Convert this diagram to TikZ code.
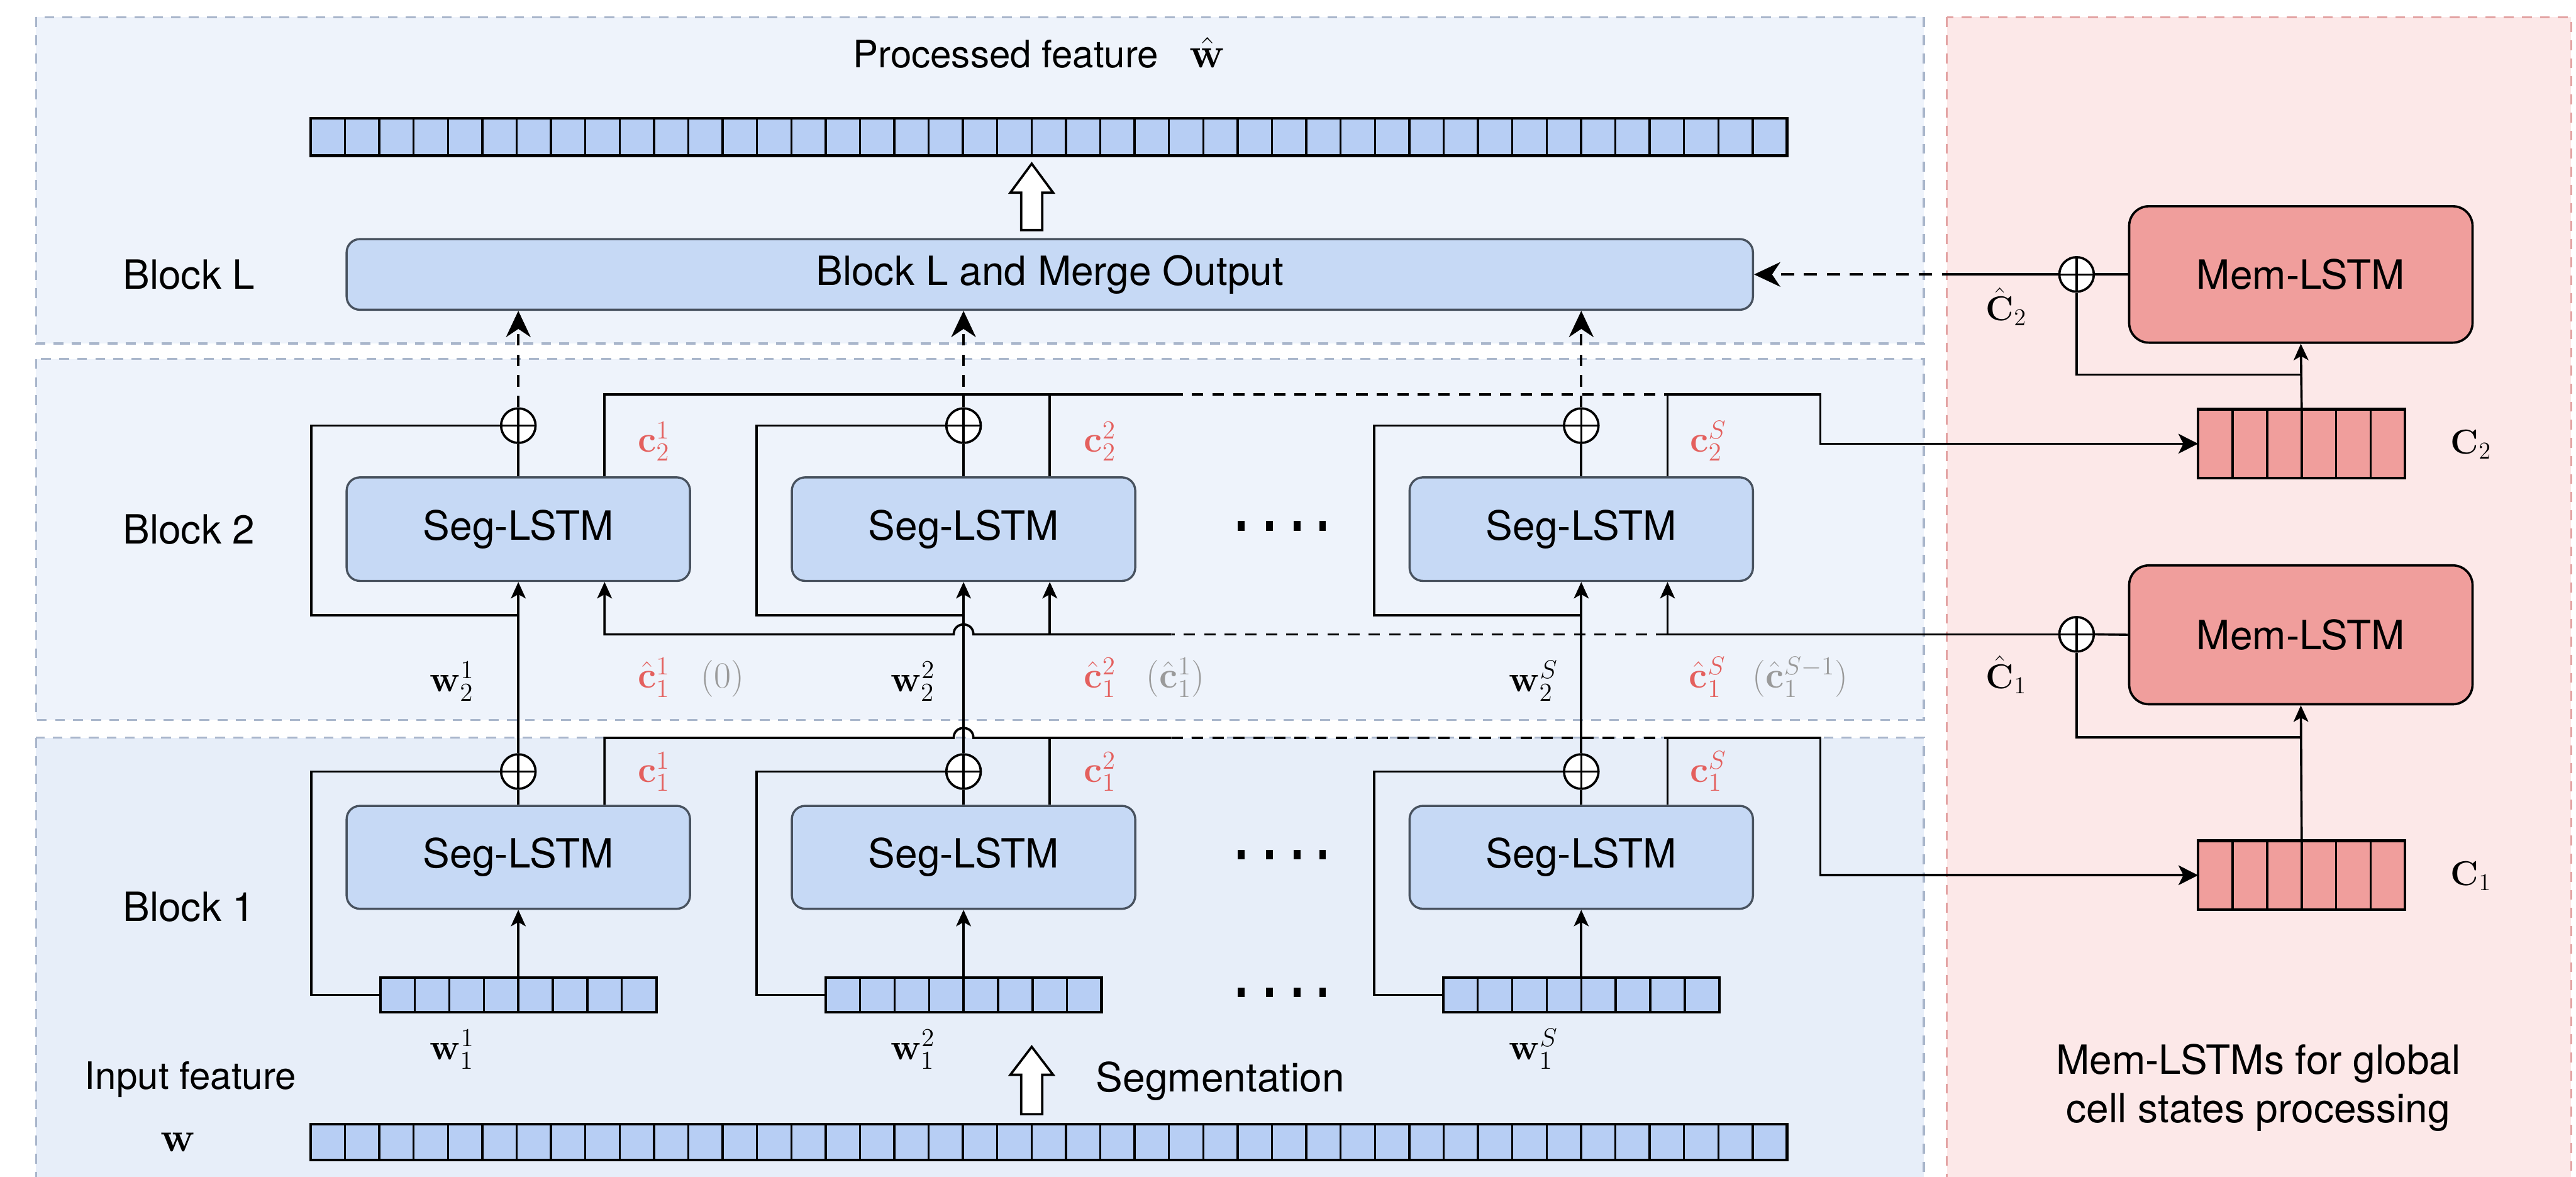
\RequirePackage{fix-cm}
\documentclass[tikz,border=0pt]{standalone}
\usepackage[no-math]{fontspec}
\newfontfamily\hv{TeX Gyre Heros}
\usetikzlibrary{arrows.meta}

\definecolor{panelA}{HTML}{EEF3FB}
\definecolor{panelB}{HTML}{E7EEF9}
\definecolor{panelEdge}{HTML}{A9B6CB}
\definecolor{pinkFill}{HTML}{FCE8E8}
\definecolor{pinkEdge}{HTML}{E3A3A3}
\definecolor{segFill}{HTML}{C6D9F5}
\definecolor{segEdge}{HTML}{48525F}
\definecolor{cellBlue}{HTML}{B7CEF4}
\definecolor{memFill}{HTML}{F09E9C}
\definecolor{cred}{HTML}{E4605E}
\definecolor{cgray}{HTML}{9A9A9A}

\begin{document}
\begin{tikzpicture}[x=1pt,y=-1pt,
  font=\hv\fontsize{24.5}{29.5}\selectfont,
  panelline/.style={draw=panelEdge,line width=1.2pt,dash pattern=on 6pt off 5pt},
  pinkline/.style={draw=pinkEdge,line width=1.2pt,dash pattern=on 6pt off 5pt},
  seg/.style={draw=segEdge,fill=segFill,line width=1.3pt,rounded corners=8pt,
    minimum width=209pt,minimum height=63pt,inner sep=0pt},
  mem/.style={draw=black,fill=memFill,line width=1.4pt,rounded corners=12pt,
    minimum width=209pt,minimum height=84pt,inner sep=0pt},
  oplus/.style={circle,draw=black,fill=white,line width=1.4pt,minimum size=21pt,inner sep=0pt,
    path picture={\draw[line width=1.3pt]
      (path picture bounding box.north) -- (path picture bounding box.south)
      (path picture bounding box.west) -- (path picture bounding box.east);}},
  cellvec/.style n args={3}{draw=black,fill=#3,line width=1.6pt,inner sep=0pt,outer sep=0pt,
    minimum width={#1*#2},
    path picture={\foreach \i in {1,...,#1}{\draw[line width=1.3pt]
      ([xshift={\i*#2}]path picture bounding box.south west) --
      ([xshift={\i*#2}]path picture bounding box.north west);}}},
  conn/.style={draw=black,line width=1.4pt},
  arr/.style={-{Stealth[length=10pt,width=9pt,inset=2.5pt]}},
  midarr/.style={-{Stealth[length=12pt,width=12pt,inset=3pt]}},
  bigarr/.style={-{Stealth[length=16pt,width=15pt,inset=5pt]}},
  dashpat/.style={dash pattern=on 7pt off 5.5pt},
  hollow/.style={draw=black,fill=white,line width=1.4pt,line join=miter},
  mlab/.style={inner sep=0pt,anchor=base west,font=\fontsize{22.5}{26}\selectfont},
  txt/.style={inner sep=0pt}
]
\clip (0,0) rectangle (1568,716);
\fill[white] (0,0) rectangle (1568,716);

% ---------- panels ----------
\draw[panelline,fill=panelA] (22,10.5) rectangle (1171,209);
\draw[panelline,fill=panelA] (22,218.5) rectangle (1171,438);
\draw[panelline,fill=panelB] (22,449) rectangle (1171,760);
\draw[pinkline,fill=pinkFill] (1185,10.5) rectangle (1565,760);

% ---------- feature vectors ----------
\node[cellvec={43}{20.9}{cellBlue},minimum height=22.7pt] (wout) at (638.4,83.4) {};
\node[cellvec={43}{20.9}{cellBlue},minimum height=22pt] (win) at (638.4,695) {};
\node[cellvec={8}{21}{cellBlue},minimum height=21.2pt] (v11) at (315.5,605.4) {};
\node[cellvec={8}{21}{cellBlue},minimum height=21.2pt] (v12) at (586.5,605.4) {};
\node[cellvec={8}{21}{cellBlue},minimum height=21.2pt] (v13) at (962.5,605.4) {};
\node[cellvec={6}{21}{memFill},minimum height=42pt] (cv2) at (1401,270) {};
\node[cellvec={6}{21}{memFill},minimum height=42pt] (cv1) at (1401,532.6) {};

% ---------- LSTM boxes ----------
\node[seg,minimum width=856pt,minimum height=43pt] (bl) at (639,167) {Block L and Merge Output};
\node[seg] (s21) at (315.5,322) {Seg-LSTM};
\node[seg] (s22) at (586.5,322) {Seg-LSTM};
\node[seg] (s23) at (962.5,322) {Seg-LSTM};
\node[seg,minimum height=62.6pt] (s11) at (315.5,521.7) {Seg-LSTM};
\node[seg,minimum height=62.6pt] (s12) at (586.5,521.7) {Seg-LSTM};
\node[seg,minimum height=62.6pt] (s13) at (962.5,521.7) {Seg-LSTM};
\node[mem,minimum height=83pt] (mt) at (1400.5,167) {Mem-LSTM};
\node[mem,minimum height=84.5pt] (mb) at (1400.5,386.3) {Mem-LSTM};

% ---------- adders ----------
\node[oplus] (o21) at (315.5,259) {};
\node[oplus] (o22) at (586.5,259) {};
\node[oplus] (o23) at (962.5,259) {};
\node[oplus] (o11) at (315.5,469.5) {};
\node[oplus] (o12) at (586.5,469.5) {};
\node[oplus] (o13) at (962.5,469.5) {};
\node[oplus] (ot) at (1264,167) {};
\node[oplus] (ob) at (1264,386) {};

% ---------- cell-state taps ----------
\foreach \k in {1,2,3}{
  \coordinate (s1\k o) at ([xshift=52.5pt]s1\k.north);
  \coordinate (s2\k o) at ([xshift=52.5pt]s2\k.north);
  \coordinate (s2\k i) at ([xshift=52.5pt]s2\k.south);
}
\coordinate (lp2) at (0,374.5);
\coordinate (fb2) at (0,228);
\coordinate (fb1) at (0,448.6);
\coordinate (j2a) at (713,240);
\coordinate (j2b) at (1015,240);
\coordinate (j2c) at (1108,240);
\coordinate (j1a) at (713,449);
\coordinate (j1b) at (1015,449);
\coordinate (j1c) at (1108,449);
\coordinate (k2a) at (713,386);
\coordinate (k2b) at (1015,386);
\coordinate (pt) at (1190,167);

% ---------- main data path ----------
\foreach \k in {1,2,3}{
  \draw[conn,arr] (v1\k.north) -- (s1\k.south);
  \draw[conn] (s1\k.north) -- (o1\k.south);
  \draw[conn,arr] (o1\k.north) -- (s2\k.south);
  \draw[conn] (s2\k.north) -- (o2\k.south);
  \draw[conn,dashpat,bigarr] (o2\k.north) -- (o2\k.north |- bl.south);
  % residual loops
  \draw[conn] (v1\k.west) -- ++(-42,0) |- (o1\k.west);
  \draw[conn] (o1\k.north |- lp2) -- ++(-126,0) |- (o2\k.west);
}

% ---------- block 2 cell states to memory ----------
\draw[conn] (s21o) |- (j2a);
\draw[conn] (s22o) -- (s22o |- j2a);
\draw[conn,dashpat] (j2a) -- (j2b);
\draw[conn] (s23o) -- (j2b);
\draw[conn,midarr] (j2b) -- (j2c) |- (cv2.west);

% ---------- block 1 cell states to memory ----------
\draw[conn] (s11o) |- (580.5,449) .. controls (580.5,441) and (592.5,441) .. (592.5,449) -- (j1a);
\draw[conn] (s12o) -- (s12o |- j1a);
\draw[conn,dashpat] (j1a) -- (j1b);
\draw[conn] (s13o) -- (j1b);
\draw[conn,midarr] (j1b) -- (j1c) |- (cv1.west);

% ---------- processed cell states back into block 2 ----------
\draw[conn] (ob.west) -- (k2b);
\draw[conn,dashpat] (k2b) -- (k2a);
\draw[conn,arr] (k2a) -- (592.5,386) .. controls (592.5,378) and (580.5,378) .. (580.5,386) -- (s21i |- k2a) -- (s21i);
\draw[conn,arr] (s22i |- k2a) -- (s22i);
\draw[conn,arr] (k2b) -- (s23i);

% ---------- memory LSTMs ----------
\draw[conn] (mt.west) -- (ot.east);
\draw[conn] (ot.west) -- (pt);
\draw[conn,bigarr,dash pattern=on 8pt off 6pt,line width=1.6pt] (pt) -- (bl.east);
\draw[conn] (ot.south) |- (cv2.north |- fb2);
\draw[conn,arr] (cv2.north) -- (mt.south);
\draw[conn] (mb.west) -- (ob.east);
\draw[conn] (ob.south) |- (cv1.north |- fb1);
\draw[conn,arr] (cv1.north) -- (mb.south);

% ---------- hollow arrows ----------
\draw[hollow] (628,99.6) -- (641,117.2) -- (634.4,117.2) -- (634.4,140) -- (621.6,140)
  -- (621.6,117.2) -- (615,117.2) -- cycle;
\draw[hollow] (628,637) -- (641,654) -- (634.4,654) -- (634.4,678) -- (621.6,678)
  -- (621.6,654) -- (615,654) -- cycle;

% ---------- ellipsis dots ----------
\foreach \y in {320,520,604}
  \foreach \x in {755.4,772.7,789.6,805}
    \fill (\x-2,\y-2.9) rectangle (\x+2,\y+2.9);

% ---------- text ----------
\node[txt,anchor=base west,font=\hv\fontsize{23}{27}\selectfont] (tproc) at (519,41) {Processed feature};
\node[mlab,font=\fontsize{26}{29}\selectfont] (twhat) at (724,41) {$\hat{\mathbf{w}}$};
\node[txt] (tbl) at (115,167) {Block L};
\node[txt] (tb2) at (115,322) {Block 2};
\node[txt] (tb1) at (115,552) {Block 1};
\node[txt,font=\hv\fontsize{23}{27}\selectfont] (tin) at (116,657) {Input feature};
\node[txt,anchor=base,font=\fontsize{25.5}{28}\selectfont] (tw) at (108.5,700.7) {$\mathbf{w}$};
\node[txt,anchor=west] (tseg) at (667,658) {Segmentation};
\node[txt,align=center] (tmem) at (1374.6,662) {Mem-LSTMs for global\\cell states processing};

\node[mlab] (lw21) at (261.5,421) {$\mathbf{w}_2^1$};
\node[mlab] (lw22) at (542,421) {$\mathbf{w}_2^2$};
\node[mlab] (lw23) at (918.5,421) {$\mathbf{w}_2^S$};
\node[mlab,text=cred] (lc21) at (388,275) {$\mathbf{c}_2^1$};
\node[mlab,text=cred] (lc22) at (659.6,275) {$\mathbf{c}_2^2$};
\node[mlab,text=cred] (lc23) at (1028.5,275) {$\mathbf{c}_2^S$};
\node[mlab,text=cred] (lh21) at (388,418.7) {$\hat{\mathbf{c}}_1^1$};
\node[mlab,text=cred] (lh22) at (659.6,418.7) {$\hat{\mathbf{c}}_1^2$};
\node[mlab,text=cred] (lh23) at (1028,418.7) {$\hat{\mathbf{c}}_1^S$};
\node[mlab,text=cgray] (lg21) at (426.6,418.7) {$(0)$};
\node[mlab,text=cgray] (lg22) at (697.5,418.7) {$(\hat{\mathbf{c}}_1^1)$};
\node[mlab,text=cgray] (lg23) at (1066.6,418.7) {$(\hat{\mathbf{c}}_1^{S-1})$};

\node[mlab] (lw11) at (261.6,645) {$\mathbf{w}_1^1$};
\node[mlab] (lw12) at (542,645) {$\mathbf{w}_1^2$};
\node[mlab] (lw13) at (918.5,645) {$\mathbf{w}_1^S$};
\node[mlab,text=cred] (lc11) at (388,476) {$\mathbf{c}_1^1$};
\node[mlab,text=cred] (lc12) at (659.6,476) {$\mathbf{c}_1^2$};
\node[mlab,text=cred] (lc13) at (1028.5,476) {$\mathbf{c}_1^S$};

\node[mlab,font=\fontsize{21}{24}\selectfont] (lC2h) at (1208.6,195) {$\hat{\mathbf{C}}_2$};
\node[mlab,font=\fontsize{21}{24}\selectfont] (lC1h) at (1208.6,419) {$\hat{\mathbf{C}}_1$};
\node[mlab,font=\fontsize{21}{24}\selectfont] (lC2) at (1491.5,276) {$\mathbf{C}_2$};
\node[mlab,font=\fontsize{21}{24}\selectfont] (lC1) at (1491.5,538.8) {$\mathbf{C}_1$};
\end{tikzpicture}
\end{document}
